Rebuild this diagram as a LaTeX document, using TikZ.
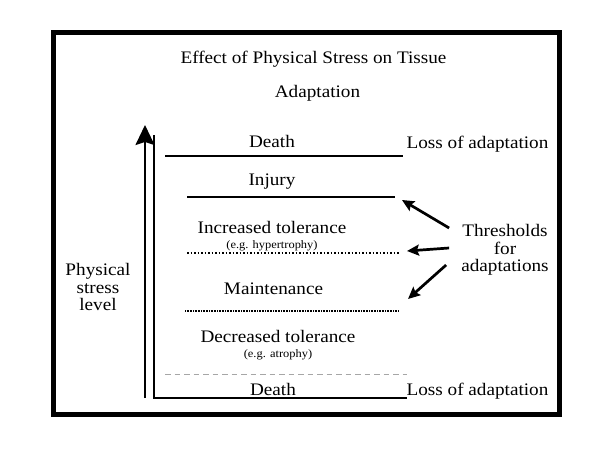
\documentclass[tikz,border=0pt]{standalone}
\usepackage{fontspec}
\setmainfont{Liberation Serif}[FakeStretch=1.09]
\usetikzlibrary{arrows.meta, calc}

\begin{document}
\begin{tikzpicture}[
        x=1pt, y=-1pt,
        >={Stealth[length=12pt, width=11pt, inset=2pt]},
        lvltext/.style={font=\fontsize{17.6}{17.6}\selectfont, inner sep=0pt, anchor=base},
        egtext/.style={font=\fontsize{11.4}{13}\selectfont, inner sep=0pt, anchor=base},
        sidetext/.style={font=\fontsize{17.6}{17.6}\selectfont, inner sep=0pt, align=center},
        level/.style={line width=2pt},
        thr/.style={->, line width=2.7pt},
    ]
    \useasboundingbox (0,0) rectangle (600,471);

        % Draw the frame
        \draw[line width=5pt] (53.5,32.5) rectangle (559.5,414.5);

        % Draw the headings
        \node[lvltext] (title) at (313.5,63) {Effect of Physical Stress on Tissue};
        \node[lvltext] (adapt) at (317.5,97) {Adaptation};

        % Draw the level names
        \foreach \name / \x / \y / \txt in {death-top/272/147/Death, injury/272/185/Injury,
                incr/272/233/Increased tolerance, maint/273.5/294/Maintenance,
                decr/278/342/Decreased tolerance, death-bot/273/395/Death}
            \node[lvltext] (\name) at (\x,\y) {\txt};
        \node[egtext] (hyper) at (272,248) {(e.g. hypertrophy)};
        \node[egtext] (atrophy) at (278,357) {(e.g. atrophy)};

        \foreach \name / \y in {top/148, bot/395}
            \node[lvltext] (loss-\name) at (477.5,\y) {Loss of adaptation};

        % Draw the side labels
        \node[sidetext] (thresh) at (505,250) {Thresholds\\for\\adaptations};
        \node[sidetext] (stress) at (98,287) {Physical\\stress\\level};

        % Draw the threshold lines
        \foreach \name / \xa / \xb / \y in {death/165/403/156, injury/187/395/197}
            \draw[level] (\xa,\y) coordinate (\name-l) -- (\xb,\y) coordinate (\name-r);
        \draw[line width=1.5pt, dotted] (187,253) coordinate (incr-l) -- (400,253) coordinate (incr-r);
        \draw[line width=1.8pt, dash pattern=on 1pt off 0.6pt] (185,311) coordinate (maint-l) -- (398,311) coordinate (maint-r);
        \draw[black!35, line width=1pt, dash pattern=on 5.5pt off 4pt] (165,374) coordinate (decr-l) -- (407,374) coordinate (decr-r);

        % Draw the stress axis
        \coordinate (axis-top) at (154,135);
        \coordinate (axis-corner) at (154,398);
        \coordinate (axis-end) at (407,398);
        \coordinate (stress-foot) at (145,398);
        \coordinate (stress-tip) at (145,125);
        \draw[level] (axis-top) -- (axis-corner) -- (axis-end);
        \draw[level, -{Stealth[length=20pt, width=19pt, inset=3pt]}] (stress-foot) -- (stress-tip);

        % Connect the thresholds label with the lines
        \draw[thr] ($(thresh.west)+(-12,-22)$) -- ($(injury-r)+(7,3)$);
        \draw[thr] ($(thresh.west)+(-12,-2)$) -- ($(incr-r)+(7,-2)$);
        \draw[thr] ($(thresh.west)+(-15,15)$) -- ($(maint-r)+(10,-12)$);
    \end{tikzpicture}
\end{document}
